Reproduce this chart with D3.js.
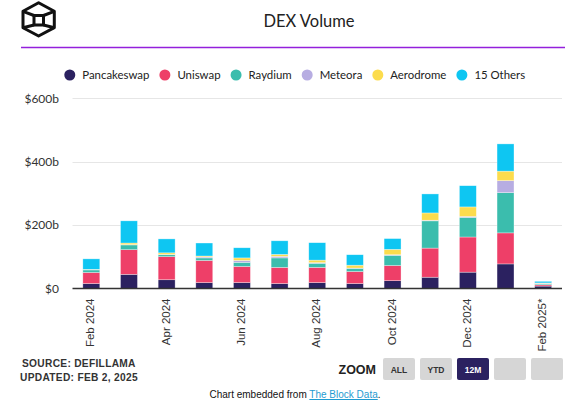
<!DOCTYPE html>
<html>
<head>
<meta charset="utf-8">
<script src="https://cdn.jsdelivr.net/npm/d3@7"></script>
<style>
  html, body { margin: 0; padding: 0; background: #fff; }
  svg { display: block; }
</style>
</head>
<body>
<svg id="chart" width="577" height="406"></svg>
<script>
// ---- data (billions USD) ----
const months = ["Feb 2024","Mar 2024","Apr 2024","May 2024","Jun 2024","Jul 2024","Aug 2024","Sep 2024","Oct 2024","Nov 2024","Dec 2024","Jan 2025","Feb 2025*"];
const seriesNames = ["Pancakeswap","Uniswap","Raydium","Meteora","Aerodrome","15 Others"];
const seriesColors = ["#2b2160","#ee3f68","#3bbdad","#b7ade2","#fcdc4d","#0ec6f2"];
const pancakeswap = [15, 44, 27, 18, 18, 15, 18, 15, 24, 35, 51, 77, 7];
const uniswap     = [35, 78, 73, 70, 51, 51, 48, 38, 48, 92, 111, 98, 4];
const raydium     = [8, 15, 6, 8, 13, 30, 13, 10, 32, 86, 62, 127, 3];
const meteora     = [1, 1, 1, 3, 6, 5, 2, 1, 2, 2, 3, 38, 2];
const aerodrome   = [1, 5, 5, 3, 8, 6, 8, 9, 17, 23, 30, 30, 1];
const others      = [33, 70, 44, 41, 32, 43, 55, 33, 34, 60, 67, 86, 5];
const yTicks = [0, 200, 400, 600];
const xTickLabels = ["Feb 2024","Apr 2024","Jun 2024","Aug 2024","Oct 2024","Dec 2024","Feb 2025*"];

(function () {
const seriesValues = [pancakeswap, uniswap, raydium, meteora, aerodrome, others];
const table = months.map((m, i) => {
  const row = { month: m };
  seriesNames.forEach((s, k) => row[s] = seriesValues[k][i]);
  return row;
});

const svg = d3.select("#chart");
const titleFont = "Lato, 'Open Sans', sans-serif";
const axisFont = "'Liberation Sans', Arial, sans-serif";

// ---- logo ----
const logo = svg.append("g").attr("fill", "none").attr("stroke", "#111").attr("stroke-width", 3).attr("stroke-linejoin", "round");
const hcx = 38.6, htop = 2.7, hbot = 36, hlx = 23, hrx = 54.3, huy = 11.3, hly = 27.7;
logo.append("path").attr("d", `M${hcx},${htop} L${hrx},${huy} L${hrx},${hly} L${hcx},${hbot} L${hlx},${hly} L${hlx},${huy} Z`);
logo.append("rect").attr("x", 34).attr("y", 15.5).attr("width", 9.5).attr("height", 9.5);
logo.append("path").attr("d", `M34,15.5 L${hlx},${huy} M43.5,15.5 L${hrx},${huy} M34,25 L${hlx},${hly} M43.5,25 L${hrx},${hly}`);

// ---- title ----
svg.append("text").attr("x", 309).attr("y", 26.5).attr("text-anchor", "middle")
  .attr("font-family", titleFont).attr("font-size", 16.5).attr("fill", "#222").text("DEX Volume");
svg.append("line").attr("x1", 21).attr("x2", 565).attr("y1", 47.5).attr("y2", 47.5)
  .attr("stroke", "#9420dc").attr("stroke-width", 1.5);

// ---- legend ----
const legend = svg.append("g");
const items = [];
seriesNames.forEach((name, k) => {
  const g = legend.append("g");
  g.append("circle").attr("cx", 0).attr("cy", 75).attr("r", 5.5).attr("fill", seriesColors[k]);
  const t = g.append("text").attr("x", 12.5).attr("y", 79).attr("font-family", titleFont)
    .attr("font-size", 11.4).attr("fill", "#222").text(name);
  const w = t.node().getComputedTextLength();
  items.push({ g, w });
});
let total = 0;
items.forEach((it, i) => { total += 12.5 + it.w + (i < items.length - 1 ? 15.5 : 0); });
total += 5.5;
let startX = 294.7 - total / 2 + 5.5;
items.forEach(it => {
  it.g.attr("transform", `translate(${startX},0)`);
  startX += 12.5 + it.w + 15.5;
});

// ---- scales ----
const x = d3.scaleBand().domain(months).range([72.5, 562]).paddingInner(0.55).paddingOuter(0.275);
const y = d3.scaleLinear().domain([0, 600]).range([288.3, 98.3]);

// gridlines
svg.append("g").selectAll("line").data(yTicks.filter(d => d > 0)).join("line")
  .attr("x1", 72.5).attr("x2", 562).attr("y1", d => Math.round(y(d)) + 0.5).attr("y2", d => Math.round(y(d)) + 0.5)
  .attr("stroke", "#e6e6e6").attr("stroke-width", 1);

// y axis labels
const yAxis = d3.axisLeft(y).tickValues(yTicks).tickSize(0).tickPadding(0)
  .tickFormat(d => d === 0 ? "$0" : `$${d}b`);
const yg = svg.append("g").attr("transform", "translate(59,0)").call(yAxis);
yg.select(".domain").remove();
yg.selectAll("text").attr("font-family", titleFont).attr("font-size", 12).attr("fill", "#333");

// ---- stacked bars ----
const stack = d3.stack().keys(seriesNames);
const stacked = stack(table);
svg.append("g").selectAll("g").data(stacked).join("g")
  .attr("fill", (d, i) => seriesColors[i])
  .selectAll("rect").data(d => d).join("rect")
  .attr("x", d => x(d.data.month))
  .attr("width", x.bandwidth())
  .attr("y", d => y(d[1]))
  .attr("height", d => Math.max(0, y(d[0]) - y(d[1])))
  .attr("stroke", "rgba(255,255,255,0.55)").attr("stroke-width", 0.6);

// x axis
const xAxis = d3.axisBottom(x).tickValues(xTickLabels.map(l => months.find(m => m === l))).tickSize(0).tickPadding(0);
const xg = svg.append("g").attr("transform", "translate(0,288.5)").call(xAxis);
xg.select(".domain").attr("d", "M72.5,0H562").attr("stroke", "#333").attr("stroke-width", 1.3);
xg.selectAll("text")
  .attr("font-family", axisFont).attr("font-size", 11.5).attr("fill", "#333")
  .attr("text-anchor", "end").attr("dy", null).attr("y", 0)
  .attr("transform", "translate(3,10) rotate(-90)");

// ---- footer ----
const foot = svg.append("g").attr("font-family", axisFont).attr("font-weight", "bold").attr("fill", "#333");
foot.append("text").attr("x", 22).attr("y", 366.5).attr("font-size", 10.2).attr("letter-spacing", 0.3).text("SOURCE: DEFILLAMA");
foot.append("text").attr("x", 20).attr("y", 380.5).attr("font-size", 10.2).attr("letter-spacing", 0.3).text("UPDATED: FEB 2, 2025");
foot.append("text").attr("x", 376).attr("y", 373.5).attr("text-anchor", "end").attr("font-size", 12.5).attr("fill", "#222").text("ZOOM");

const buttons = ["ALL", "YTD", "12M", "", ""];
const bx0 = 383, bw = 32, bgap = 5;
buttons.forEach((b, i) => {
  const active = b === "12M";
  svg.append("rect").attr("x", bx0 + i * (bw + bgap)).attr("y", 358).attr("width", bw).attr("height", 22).attr("rx", 2)
    .attr("fill", active ? "#2b2160" : "#d6d6d6");
  if (b) svg.append("text").attr("x", bx0 + i * (bw + bgap) + bw / 2).attr("y", 372.5).attr("text-anchor", "middle")
    .attr("font-family", axisFont).attr("font-weight", "bold").attr("font-size", 8.5)
    .attr("fill", active ? "#fff" : "#333").text(b);
});

const emb = svg.append("text").attr("x", 295).attr("y", 398).attr("text-anchor", "middle")
  .attr("font-family", axisFont).attr("font-size", 10).attr("fill", "#111");
emb.append("tspan").text("Chart embedded from ");
emb.append("tspan").attr("fill", "#1f9bd1").attr("text-decoration", "underline").text("The Block Data");
emb.append("tspan").text(".");
})();
</script>
</body>
</html>
